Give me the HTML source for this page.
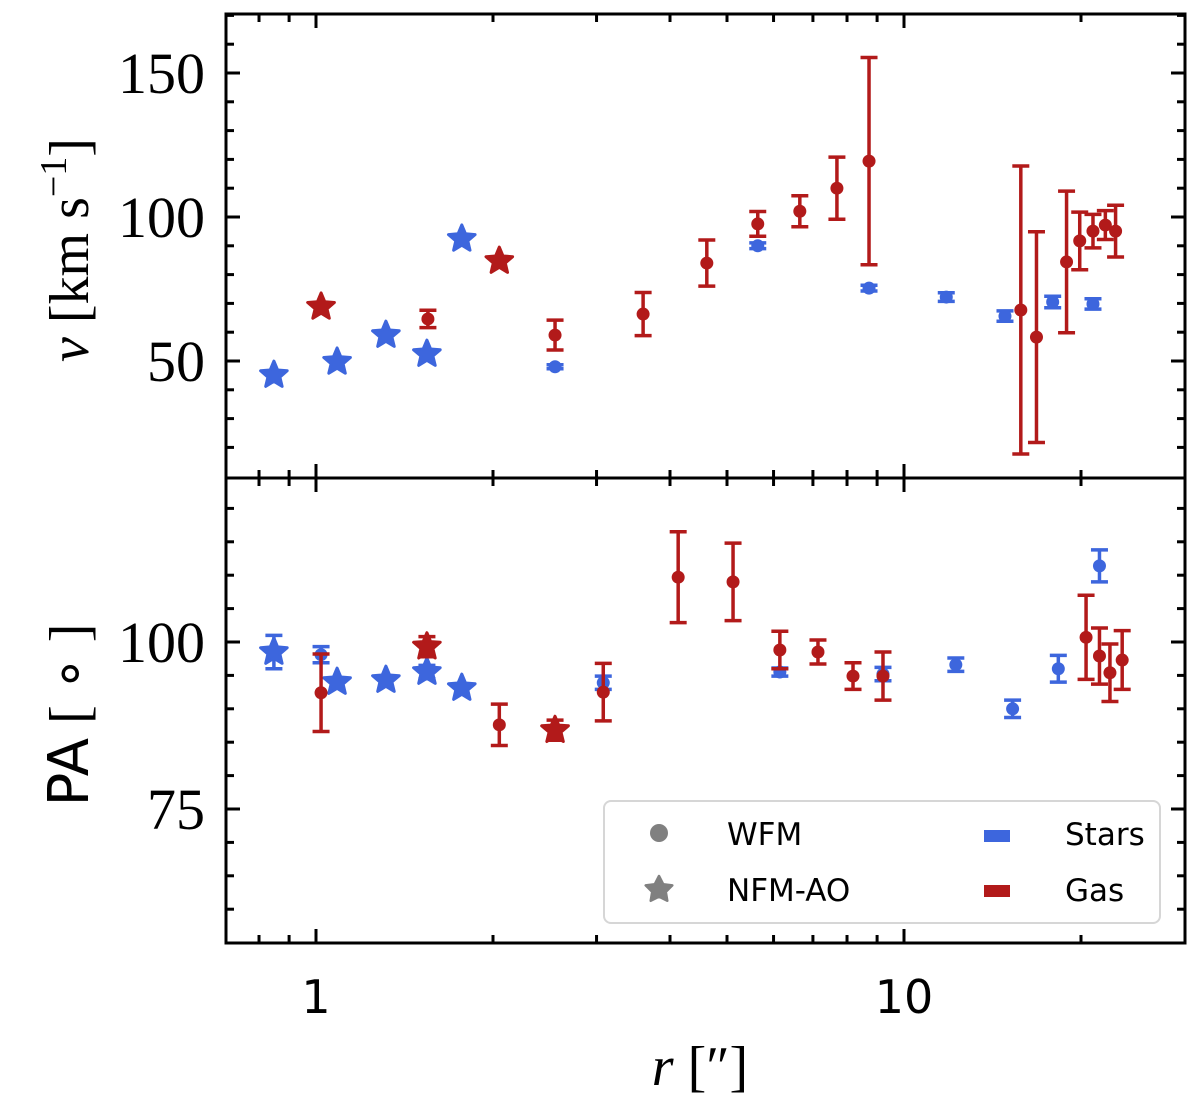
<!DOCTYPE html>
<html><head><meta charset="utf-8"><style>
html,body{margin:0;padding:0;background:#fff;}
svg{display:block;}
</style></head><body>
<svg id="chart" width="1200" height="1106" viewBox="0 0 1200 1106" xmlns="http://www.w3.org/2000/svg"></svg>
<script>
// ---- data: velocity panel ----
const vStarsNfmR = [0.848, 1.086, 1.315, 1.544, 1.77];
const vStarsNfmV = [45.1, 49.7, 59, 52.4, 92.4];
const vGasNfmR = [1.02, 2.05];
const vGasNfmV = [68.8, 84.7];
const vStarsWfmR = [2.55, 5.64, 8.72, 11.8, 14.85, 17.9, 20.96];
const vStarsWfmV = [48, 90, 75.3, 72.2, 65.6, 70.5, 69.8];
const vStarsWfmE = [0.7, 1, 1, 1.5, 1.8, 2, 1.8];
const vGasWfmR = [1.55, 2.55, 3.6, 4.62, 5.64, 6.65, 7.69, 8.72, 15.8, 16.8, 18.9, 19.9, 20.96, 22.0, 22.9];
const vGasWfmV = [64.6, 59, 66.3, 84, 97.6, 102, 110, 119.4, 67.7, 58.3, 84.4, 91.7, 95.1, 97.2, 95.1];
const vGasWfmE = [3, 5.2, 7.5, 8, 4.3, 5.4, 10.8, 36, 50, 36.6, 24.6, 10, 5.8, 5, 9];
// ---- data: PA panel ----
const paStarsNfmR = [0.848, 1.086, 1.315, 1.544, 1.77];
const paStarsNfmV = [98.5, 94, 94.3, 95.5, 93.1];
const paStarsNfmE = [2.5, 0, 0, 1, 0];
const paGasNfmR = [1.544, 2.55];
const paGasNfmV = [99.3, 86.8];
const paGasNfmE = [1.5, 1.5];
const paStarsWfmR = [1.02, 3.08, 6.15, 9.21, 12.25, 15.3, 18.3, 21.5];
const paStarsWfmV = [98.1, 93.9, 95.5, 95.2, 96.6, 90, 96, 111.4];
const paStarsWfmE = [1.2, 1, 0.6, 1, 1, 1.3, 2, 2.4];
const paGasWfmR = [1.02, 2.05, 3.08, 4.13, 5.12, 6.15, 7.14, 8.19, 9.21, 20.4, 21.5, 22.4, 23.5];
const paGasWfmV = [92.4, 87.6, 92.5, 109.7, 109, 98.8, 98.5, 94.9, 94.9, 100.7, 97.9, 95.4, 97.3];
const paGasWfmE = [5.8, 3.1, 4.3, 6.8, 5.8, 2.8, 1.8, 2, 3.6, 6.3, 4.2, 4.3, 4.4];
// ticks
const xMajorTicks = [1, 10];
const xMajorLabels = ["1", "10"];
const xMinorTicks = [0.8, 0.9, 2, 3, 4, 5, 6, 7, 8, 9, 20];
const vMajorTicks = [50, 100, 150];
const vMinorTicks = [20, 30, 40, 60, 70, 80, 90, 110, 120, 130, 140, 160, 170];
const paMajorTicks = [75, 100];
const paMinorTicks = [60, 65, 70, 80, 85, 90, 95, 105, 110, 115, 120];

const L = 226, R = 1185, T1 = 14, B1 = 478, T2 = 478, B2 = 943;
const BLUE = "#3d66dd", RED = "#b21a1a";
const NS = "http://www.w3.org/2000/svg";
const svg = document.getElementById("chart");
function xs(r) { return 316 + 588 * Math.log10(r); }
function yV(v) { return 73 + (150 - v) * 2.88; }
function yP(p) { return 642 + (100 - p) * 6.68; }
function mk(tag, attrs, parent) {
  const e = document.createElementNS(NS, tag);
  for (const k in attrs) e.setAttribute(k, attrs[k]);
  (parent || svg).appendChild(e);
  return e;
}
function starPath(cx, cy, ro) {
  const ri = ro * 0.45; let d = "";
  for (let i = 0; i < 10; i++) {
    const a = -Math.PI / 2 + i * Math.PI / 5, r = i % 2 ? ri : ro;
    d += (i ? "L" : "M") + (cx + r * Math.cos(a)).toFixed(1) + "," + (cy + r * Math.sin(a)).toFixed(1);
  }
  return d + "Z";
}
function errbar(g, x, y1, y2, col) {
  const l = mk("line", {x1: x, x2: x, y1: y1, y2: y2, stroke: col, "stroke-width": 3.5}, g);
  
  
  if (Math.abs(y2 - y1) < 1) return;
  [y1, y2].forEach(yy => {
    const c = mk("line", {x1: x - 8.5, x2: x + 8.5, y1: yy, y2: yy, stroke: col, "stroke-width": 3.5}, g);
    
    
  });
}
function series(name, R_, V_, E_, yf, col, shape) {
  const g = mk("g", {});
  
  
  for (let i = 0; i < R_.length; i++) {
    const x = xs(R_[i]), y = yf(V_[i]);
    if (E_ && E_[i] > 0) errbar(g, x, yf(V_[i] + E_[i]), yf(V_[i] - E_[i]), col);
    let m;
    if (shape === "star") m = mk("path", {d: starPath(x, y, 14), fill: col, stroke: col, "stroke-width": 3, "stroke-linejoin": "round"}, g);
    else m = mk("circle", {cx: x, cy: y, r: 6.5, fill: col}, g);
    
    
  }
}
function panel(name, top, bot, yf, majors, minors) {
  const g = mk("g", {});
  
  
  const tk = (x1, y1, x2, y2) => mk("line", {x1, y1, x2, y2, stroke: "#000", "stroke-width": 3}, g);
  xMajorTicks.forEach(t => { const x = xs(t); tk(x, bot, x, bot - 14); tk(x, top, x, top + 14); });
  xMinorTicks.forEach(t => { const x = xs(t); tk(x, bot, x, bot - 8); tk(x, top, x, top + 8); });
  majors.forEach((t, i) => { const y = yf(t); tk(L, y, L + 14, y); tk(R, y, R - 14, y);
    const tx = mk("text", {x: 205, y: y + 20, "text-anchor": "end", "font-family": "'Liberation Serif', serif", "font-size": 58}, g);
    tx.textContent = String(t);
    
    
  });
  minors.forEach(t => { const y = yf(t); if (y > top + 1 && y < bot - 1) { tk(L, y, L + 8, y); tk(R, y, R - 8, y); } });
  const fr = mk("rect", {x: L, y: top, width: R - L, height: bot - top, fill: "none", stroke: "#000", "stroke-width": 3}, g);
  
  
}
panel("velocity-panel", T1, B1, yV, vMajorTicks, vMinorTicks);
panel("pa-panel", T2, B2, yP, paMajorTicks, paMinorTicks);
xMajorTicks.forEach((t, i) => {
  const tx = mk("text", {x: xs(t), y: 1013, "text-anchor": "middle", "font-family": "'DejaVu Sans', sans-serif", "font-size": 46});
  tx.textContent = xMajorLabels[i];
  
  
});

series("velocity-stars-nfm", vStarsNfmR, vStarsNfmV, null, yV, BLUE, "star");
series("velocity-gas-nfm", vGasNfmR, vGasNfmV, null, yV, RED, "star");
series("velocity-stars-wfm", vStarsWfmR, vStarsWfmV, vStarsWfmE, yV, BLUE, "circle");
series("velocity-gas-wfm", vGasWfmR, vGasWfmV, vGasWfmE, yV, RED, "circle");
series("pa-stars-nfm", paStarsNfmR, paStarsNfmV, paStarsNfmE, yP, BLUE, "star");
series("pa-gas-nfm", paGasNfmR, paGasNfmV, paGasNfmE, yP, RED, "star");
series("pa-stars-wfm", paStarsWfmR, paStarsWfmV, paStarsWfmE, yP, BLUE, "circle");
series("pa-gas-wfm", paGasWfmR, paGasWfmV, paGasWfmE, yP, RED, "circle");
</script>
<svg width="1200" height="1106" style="position:absolute;left:0;top:0" xmlns="http://www.w3.org/2000/svg">
  <text transform="translate(88,250) rotate(-90)" text-anchor="middle" font-family="'Liberation Serif', serif" font-size="56"><tspan font-style="italic">v</tspan> [km s<tspan font-size="38" dy="-22">−1</tspan><tspan dy="22">]</tspan></text>
  <text transform="translate(88,715) rotate(-90)" text-anchor="middle" font-size="56"><tspan font-family="'DejaVu Sans', sans-serif">PA</tspan><tspan font-family="'Liberation Serif', serif">  [ ∘ ]</tspan></text>
  <text x="700" y="1085" text-anchor="middle" font-family="'Liberation Serif', serif" font-size="56"><tspan font-style="italic">r</tspan> [″]</text>
  <g>
    <rect x="604" y="801" width="556" height="122" rx="7" fill="#fff" fill-opacity="0.9" stroke="#d6d6d6" stroke-width="2"/>
    <circle cx="659" cy="833" r="9" fill="#808080"/>
    <text x="727" y="845" font-family="'DejaVu Sans', sans-serif" font-size="31">WFM</text>
    <path d="M659,876 L663.2,884.2 L672.3,885.4 L665.8,891.8 L667.3,900.8 L659,896.6 L650.7,900.8 L652.2,891.8 L645.7,885.4 L654.8,884.2 Z" fill="#808080" stroke="#808080" stroke-width="2.5" stroke-linejoin="round"/>
    <text x="727" y="901" font-family="'DejaVu Sans', sans-serif" font-size="31">NFM-AO</text>
    <rect x="984" y="830" width="26" height="12" fill="#3d66dd"/>
    <text x="1065" y="845" font-family="'DejaVu Sans', sans-serif" font-size="31">Stars</text>
    <rect x="984" y="885" width="26" height="12" fill="#b21a1a"/>
    <text x="1065" y="901" font-family="'DejaVu Sans', sans-serif" font-size="31">Gas</text>
  </g>
</svg>
</body></html>
